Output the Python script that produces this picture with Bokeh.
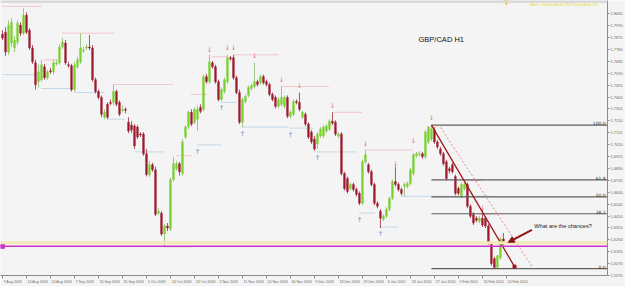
from bokeh.plotting import figure
from bokeh.models import (Range1d, FixedTicker, Span, Label, Arrow, NormalHead,
                          NumeralTickFormatter, ColumnDataSource)
from bokeh.embed import file_html
from bokeh.resources import INLINE
from bokeh.core.properties import value

# ---------------- data (GBP/CAD bars) ----------------
opens = [
    1.7902, 1.7918, 1.7760, 1.7831, 1.7792, 1.7839, 1.7974, 1.7910, 1.8053, 1.7934,
    1.7792, 1.7673, 1.7523, 1.7539, 1.7642, 1.7555, 1.7610, 1.7602, 1.7665, 1.7673,
    1.7800, 1.7831, 1.7658, 1.7650, 1.7460, 1.7642, 1.7681, 1.7768, 1.7792, 1.7800,
    1.7792, 1.7539, 1.7444, 1.7397, 1.7239, 1.7342, 1.7357, 1.7357, 1.7444, 1.7357,
    1.7294, 1.7302, 1.7199, 1.7176, 1.7168, 1.7160, 1.7105, 1.7105, 1.6947, 1.6781,
    1.6860, 1.6820, 1.6473, 1.6473, 1.6307, 1.6370, 1.6346, 1.6741, 1.6828, 1.6868,
    1.6789, 1.7081, 1.7160, 1.7278, 1.7199, 1.7223, 1.7318, 1.7302, 1.7563, 1.7523,
    1.7673, 1.7642, 1.7523, 1.7381, 1.7444, 1.7523, 1.7713, 1.7713, 1.7555, 1.7436,
    1.7199, 1.7365, 1.7413, 1.7468, 1.7484, 1.7523, 1.7515, 1.7563, 1.7523, 1.7500,
    1.7421, 1.7397, 1.7326, 1.7342, 1.7326, 1.7397, 1.7247, 1.7263, 1.7365, 1.7357,
    1.7239, 1.7263, 1.7184, 1.7120, 1.7065, 1.7026, 1.7089, 1.7089, 1.7128, 1.7144,
    1.7207, 1.7199, 1.7089, 1.7105, 1.6789, 1.6749, 1.6670, 1.6702, 1.6662, 1.6631,
    1.6552, 1.6883, 1.6860, 1.6804, 1.6702, 1.6552, 1.6488, 1.6425, 1.6449, 1.6504,
    1.6591, 1.6725, 1.6702, 1.6662, 1.6686, 1.6686, 1.6710, 1.6789, 1.6931, 1.6939,
    1.6947, 1.6923, 1.7041, 1.7065, 1.7136, 1.7041, 1.6986, 1.6947, 1.6883, 1.6828,
    1.6860, 1.6765, 1.6670, 1.6607, 1.6670, 1.6702, 1.6528, 1.6465, 1.6433, 1.6409,
    1.6433, 1.6433, 1.6370, 1.6228, 1.6109, 1.6038, 1.6117, 1.6267]
highs = [
    1.7934, 1.7958, 1.8013, 1.8029, 1.7887, 1.8013, 1.7997, 1.8108, 1.8076, 1.7950,
    1.7816, 1.7697, 1.7658, 1.7697, 1.7665, 1.7618, 1.7634, 1.7697, 1.7697, 1.7823,
    1.7871, 1.7855, 1.7681, 1.7665, 1.7681, 1.7721, 1.7910, 1.7800, 1.7823, 1.7895,
    1.7816, 1.7555, 1.7460, 1.7413, 1.7302, 1.7357, 1.7381, 1.7500, 1.7460, 1.7373,
    1.7334, 1.7318, 1.7239, 1.7207, 1.7184, 1.7176, 1.7120, 1.7120, 1.6986, 1.6891,
    1.6875, 1.6844, 1.6512, 1.6488, 1.6386, 1.6394, 1.6757, 1.6923, 1.6891, 1.6883,
    1.7065, 1.7176, 1.7294, 1.7302, 1.7318, 1.7334, 1.7342, 1.7579, 1.7586, 1.7737,
    1.7689, 1.7658, 1.7539, 1.7476, 1.7555, 1.7737, 1.7729, 1.7737, 1.7571, 1.7460,
    1.7397, 1.7421, 1.7492, 1.7507, 1.7673, 1.7539, 1.7579, 1.7579, 1.7539, 1.7515,
    1.7436, 1.7413, 1.7397, 1.7484, 1.7413, 1.7413, 1.7294, 1.7381, 1.7381, 1.7436,
    1.7294, 1.7278, 1.7199, 1.7136, 1.7089, 1.7120, 1.7160, 1.7176, 1.7184, 1.7223,
    1.7278, 1.7215, 1.7120, 1.7120, 1.6804, 1.6765, 1.6717, 1.6717, 1.6678, 1.6646,
    1.6899, 1.6978, 1.6875, 1.6820, 1.6717, 1.6567, 1.6504, 1.6465, 1.6520, 1.6607,
    1.6741, 1.6844, 1.6717, 1.6678, 1.6717, 1.6725, 1.6836, 1.6954, 1.6962, 1.6970,
    1.6962, 1.7136, 1.7168, 1.7176, 1.7160, 1.7057, 1.7002, 1.6962, 1.6899, 1.6844,
    1.6875, 1.6781, 1.6686, 1.6717, 1.6717, 1.6717, 1.6544, 1.6480, 1.6449, 1.6449,
    1.6496, 1.6449, 1.6386, 1.6243, 1.6125, 1.6141, 1.6283, 1.6315]
lows = [
    1.7855, 1.7729, 1.7737, 1.7800, 1.7760, 1.7816, 1.7887, 1.7895, 1.7902, 1.7776,
    1.7665, 1.7460, 1.7476, 1.7523, 1.7539, 1.7539, 1.7586, 1.7579, 1.7650, 1.7658,
    1.7784, 1.7658, 1.7634, 1.7444, 1.7444, 1.7626, 1.7665, 1.7752, 1.7776, 1.7776,
    1.7523, 1.7428, 1.7381, 1.7239, 1.7223, 1.7223, 1.7334, 1.7334, 1.7326, 1.7247,
    1.7278, 1.7270, 1.7112, 1.7112, 1.6986, 1.7065, 1.7081, 1.6931, 1.6765, 1.6765,
    1.6804, 1.6449, 1.6457, 1.6291, 1.6212, 1.6330, 1.6330, 1.6725, 1.6812, 1.6773,
    1.6773, 1.7065, 1.7144, 1.7168, 1.7184, 1.7128, 1.7270, 1.7286, 1.7507, 1.7507,
    1.7626, 1.7507, 1.7365, 1.7365, 1.7428, 1.7507, 1.7689, 1.7539, 1.7421, 1.7184,
    1.7160, 1.7349, 1.7397, 1.7452, 1.7468, 1.7484, 1.7500, 1.7500, 1.7484, 1.7405,
    1.7365, 1.7310, 1.7310, 1.7326, 1.7310, 1.7231, 1.7231, 1.7247, 1.7342, 1.7286,
    1.7223, 1.7168, 1.7065, 1.7026, 1.6970, 1.6986, 1.7073, 1.7073, 1.7112, 1.7128,
    1.7176, 1.7089, 1.7073, 1.6773, 1.6654, 1.6631, 1.6654, 1.6646, 1.6607, 1.6536,
    1.6536, 1.6868, 1.6789, 1.6686, 1.6536, 1.6512, 1.6354, 1.6409, 1.6433, 1.6488,
    1.6575, 1.6686, 1.6646, 1.6615, 1.6607, 1.6670, 1.6694, 1.6773, 1.6915, 1.6923,
    1.6907, 1.6907, 1.7026, 1.7049, 1.7026, 1.6986, 1.6931, 1.6852, 1.6733, 1.6789,
    1.6789, 1.6615, 1.6615, 1.6591, 1.6654, 1.6512, 1.6433, 1.6378, 1.6401, 1.6394,
    1.6362, 1.6354, 1.6220, 1.6054, 1.6030, 1.6038, 1.6101, 1.6220]
closes = [
    1.7871, 1.7760, 1.7974, 1.7997, 1.7855, 1.7989, 1.7910, 1.8053, 1.7918, 1.7792,
    1.7681, 1.7500, 1.7602, 1.7658, 1.7555, 1.7602, 1.7602, 1.7673, 1.7673, 1.7800,
    1.7839, 1.7673, 1.7650, 1.7460, 1.7658, 1.7697, 1.7792, 1.7776, 1.7800, 1.7792,
    1.7539, 1.7444, 1.7397, 1.7263, 1.7278, 1.7239, 1.7349, 1.7444, 1.7342, 1.7263,
    1.7302, 1.7294, 1.7128, 1.7136, 1.7010, 1.7081, 1.7097, 1.6947, 1.6781, 1.6860,
    1.6820, 1.6465, 1.6488, 1.6307, 1.6370, 1.6354, 1.6741, 1.6868, 1.6868, 1.6804,
    1.7041, 1.7160, 1.7278, 1.7184, 1.7302, 1.7302, 1.7286, 1.7563, 1.7523, 1.7681,
    1.7642, 1.7523, 1.7381, 1.7460, 1.7539, 1.7713, 1.7705, 1.7555, 1.7436, 1.7199,
    1.7381, 1.7405, 1.7476, 1.7492, 1.7523, 1.7500, 1.7563, 1.7515, 1.7500, 1.7421,
    1.7381, 1.7326, 1.7381, 1.7397, 1.7397, 1.7247, 1.7278, 1.7365, 1.7357, 1.7302,
    1.7278, 1.7184, 1.7081, 1.7041, 1.6986, 1.7105, 1.7144, 1.7160, 1.7168, 1.7207,
    1.7191, 1.7105, 1.7105, 1.6789, 1.6670, 1.6646, 1.6702, 1.6662, 1.6623, 1.6552,
    1.6883, 1.6939, 1.6804, 1.6702, 1.6552, 1.6528, 1.6433, 1.6449, 1.6504, 1.6591,
    1.6725, 1.6702, 1.6662, 1.6631, 1.6702, 1.6710, 1.6820, 1.6939, 1.6947, 1.6947,
    1.6923, 1.7120, 1.7160, 1.7144, 1.7041, 1.7002, 1.6947, 1.6868, 1.6749, 1.6812,
    1.6804, 1.6631, 1.6631, 1.6702, 1.6702, 1.6528, 1.6449, 1.6394, 1.6417, 1.6433,
    1.6378, 1.6370, 1.6236, 1.6070, 1.6038, 1.6133, 1.6267, 1.6236]

date_labels = ["7 Aug 2009", "14 Aug 2009", "24 Aug 2009", "7 Sep 2009", "16 Sep 2009",
               "25 Sep 2009", "5 Oct 2009", "14 Oct 2009", "23 Oct 2009", "2 Nov 2009",
               "11 Nov 2009", "20 Nov 2009", "30 Nov 2009", "9 Dec 2009", "18 Dec 2009",
               "29 Dec 2009", "6 Jan 2010", "18 Jan 2010", "27 Jan 2010", "5 Feb 2010",
               "16 Feb 2010", "24 Feb 2010"]
bars_per_label = 8

price_ticks = [1.5975, 1.6070, 1.6165, 1.6260, 1.6355, 1.6450, 1.6545, 1.6640,
               1.6735, 1.6830, 1.6925, 1.7020, 1.7115, 1.7210, 1.7305, 1.7400,
               1.7495, 1.7590, 1.7685, 1.7780, 1.7875, 1.7970, 1.8065]

# fractal resistance (pink dotted) and support (blue dotted) levels
res_level = [1.8124, 1.7910, 1.7697, 1.7500, 1.6931, 1.6204, 1.7421, 1.7721,
             1.7737, 1.7484, 1.7278, 1.6978, 1.6733, 1.6465]
res_start = [0, 20, 14, 37, 58, 54, 63, 70, 77, 93, 110, 121, 154, 159]
res_end = [13, 37, 19, 57, 63, 64, 68, 75, 92, 109, 120, 137, 160, 164]
sup_level = [1.7579, 1.7468, 1.7436, 1.7223, 1.6962, 1.7018, 1.7357, 1.7160,
             1.7152, 1.6962, 1.6473, 1.6362, 1.6607, 1.6030]
sup_start = [0, 13, 24, 35, 44, 65, 73, 80, 96, 105, 119, 126, 133, 164]
sup_end = [11, 24, 34, 41, 54, 73, 78, 95, 104, 118, 124, 132, 164, 166]

# fractal arrows
down_x = [69, 75, 77, 84, 93, 99, 110, 121, 131, 137, 143, 160]
down_y = [1.7776, 1.7792, 1.7792, 1.7729, 1.7539, 1.7492, 1.7326, 1.7026,
          1.6868, 1.7049, 1.7231, 1.6512]
up_x = [65, 73, 80, 96, 105, 119, 126]
up_y = [1.6962, 1.7310, 1.7105, 1.7097, 1.6915, 1.6417, 1.6307]

fib_levels = [0.0, 38.2, 50.0, 61.8, 100.0]
fib_from_bar = 140
trend_end = (170.7, 1.6046)
channel_x = [145.3, 177.0]
channel_y = [1.7184, 1.6030]
alert_level = 1.6208

# ---------------- figure ----------------
BG = "#f4f4f4"
X_END = 201.7
PX_PER_BAR = 3.0
p = figure(width=625, height=286, output_backend="svg", toolbar_location=None,
           x_range=Range1d(-0.67, X_END), y_range=Range1d(1.5975, 1.8171),
           y_axis_location="right", min_border=0)
p.grid.visible = False
p.background_fill_color = BG
p.border_fill_color = BG
p.outline_line_color = None

ya = p.yaxis[0]
ya.ticker = FixedTicker(ticks=price_ticks)
ya.formatter = NumeralTickFormatter(format="0.0000")
ya.major_label_text_font_size = "4px"
ya.major_label_text_color = "#6a6a6a"
ya.major_tick_out = 2
ya.major_tick_in = 0
ya.minor_tick_line_color = None
ya.major_label_standoff = 1
ya.axis_line_color = "#8a8a8a"
ya.major_tick_line_color = "#8a8a8a"

# date labels start at their tick (as in the terminal): labels are centred by the
# axis, so the label anchor is moved right by half of its estimated width and the
# tick marks are drawn as minor ticks at the bar itself.
LABEL_PX = 3.6
xt = [k * bars_per_label for k in range(len(date_labels))]
x_label_pos = [t + 0.26 * len(lab) * LABEL_PX / PX_PER_BAR + 0.3
               for t, lab in zip(xt, date_labels)]
xa = p.xaxis[0]
xa.ticker = FixedTicker(ticks=x_label_pos, minor_ticks=xt)
xa.major_label_overrides = {pos: lab for pos, lab in zip(x_label_pos, date_labels)}
xa.major_label_text_font_size = "%.1fpx" % LABEL_PX
xa.major_label_text_color = "#6a6a6a"
xa.major_tick_line_color = None
xa.major_tick_out = 3
xa.major_tick_in = 0
xa.minor_tick_out = 3
xa.minor_tick_in = 0
xa.minor_tick_line_color = "#8a8a8a"
xa.major_label_standoff = 1
xa.axis_line_color = "#8a8a8a"

# top frame strip
p.add_layout(Span(location=1.8171, dimension="width", line_color="#d9d9d9", line_width=5))

# bid / alert lines
p.add_layout(Span(location=closes[-1], dimension="width", line_color="#f3e9b5", line_width=3))
p.add_layout(Span(location=alert_level, dimension="width", line_color="#cc33cc", line_width=1.5))
p.scatter(x=[0], y=[alert_level], marker="square", size=4, color="#cc33cc")

# fractal dotted levels
p.segment(x0=res_start, y0=res_level, x1=res_end, y1=res_level,
          line_color="#ee9aa0", line_width=1, line_dash="1 1")
p.segment(x0=sup_start, y0=sup_level, x1=sup_end, y1=sup_level,
          line_color="#93bbdd", line_width=1, line_dash="1 1")

# candles
n = len(opens)
idx = list(range(n))
bull = [c >= o for o, c in zip(opens, closes)]
src = ColumnDataSource(dict(
    x=idx, high=highs, low=lows,
    top=[max(o, c) for o, c in zip(opens, closes)],
    bottom=[min(o, c) for o, c in zip(opens, closes)],
    body=["#7ad12e" if b else "#9c1b2f" for b in bull],
    wick=["#95bf7c" if b else "#a8404e" for b in bull],
))
p.segment(x0="x", y0="high", x1="x", y1="low", line_color="wick", line_width=0.9, source=src)
p.vbar(x="x", width=0.62, top="top", bottom="bottom", fill_color="body",
       line_color="body", line_width=0.4, source=src)

# fractal arrows
p.text(x=down_x, y=down_y, text=["\u2193"] * len(down_x), text_color="#e0706f",
       text_font_size="6.5px", text_align="center", text_baseline="middle",
       text_font=value("DejaVu Sans"))
p.text(x=up_x, y=up_y, text=["\u2191"] * len(up_x), text_color="#6c8fc7",
       text_font_size="6.5px", text_align="center", text_baseline="middle",
       text_font=value("DejaVu Sans"))

# Fibonacci retracement from the January high to the February low
seg_h = highs[fib_from_bar:]
seg_l = lows[fib_from_bar:]
hi = max(seg_h)
lo = min(seg_l)
peak_bar = fib_from_bar + seg_h.index(hi)
fib_prices = [lo + lv / 100.0 * (hi - lo) for lv in fib_levels]
p.segment(x0=[peak_bar] * len(fib_prices), y0=fib_prices, x1=[X_END] * len(fib_prices),
          y1=fib_prices, line_color="#5e5e5e", line_width=1.1)
p.text(x=[X_END - 0.6] * len(fib_prices), y=fib_prices,
       text=["%.1f" % lv for lv in fib_levels], text_font_size="4.5px",
       text_color="#333333", text_align="right", text_baseline="bottom",
       text_font=value("DejaVu Sans"))

# trend line and dotted channel
p.line(x=[peak_bar, trend_end[0]], y=[hi, trend_end[1]], line_color="#a3161c", line_width=1.3)
p.scatter(x=[trend_end[0]], y=[trend_end[1]], marker="square", size=3, color="#a3161c")
p.line(x=channel_x, y=channel_y, line_color="#e58a8a", line_width=1, line_dash="2 2")

# current bar marker
p.scatter(x=[n], y=[1.8160], marker="inverted_triangle", size=5, color="#e6c21a")

# annotations
p.add_layout(Label(x=138.7, y=1.7863, text="GBP/CAD H1", text_font_size="7.5px",
                   text_color="#111111", text_baseline="middle",
                   text_font="Liberation Sans"))
p.add_layout(Label(x=176.0, y=1.8132, text="Alerts:  Sounds Mode ON    Popup Mode ON",
                   text_font_size="3.6px", text_color="#e3db2a", text_baseline="middle",
                   text_font="Liberation Sans"))
p.add_layout(Label(x=177.3, y=1.6370, text="What are the chances?", text_font_size="5.6px",
                   text_color="#222222", text_baseline="middle",
                   text_font="Liberation Sans"))
p.add_layout(Arrow(end=NormalHead(size=6, fill_color="#8e1418", line_color="#8e1418"),
                   x_start=176.5, y_start=1.6340, x_end=168.6, y_end=1.6240,
                   line_color="#8e1418", line_width=2))

# price boxes on the axis
p.add_layout(Label(x=X_END, y=closes[-1], text="%.4f" % closes[-1], text_font_size="4px",
                   text_color="#333333", text_baseline="middle", x_offset=2,
                   background_fill_color="#ffffff", border_line_color="#999999",
                   text_font="Liberation Sans"))
p.add_layout(Label(x=X_END, y=alert_level, text="%.4f" % alert_level, text_font_size="4px",
                   text_color="#ffffff", text_baseline="middle", x_offset=2,
                   background_fill_color="#cc33cc", text_font="Liberation Sans"))

open("out.html", "w").write(file_html(p, INLINE))
